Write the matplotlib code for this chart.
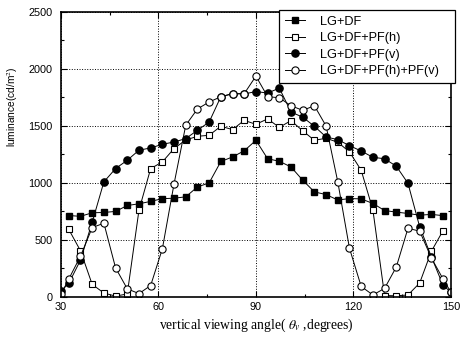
import matplotlib
matplotlib.use("Agg")
import matplotlib.pyplot as plt
from matplotlib.ticker import MultipleLocator

plt.rcParams['font.family'] = ['Liberation Sans', 'DejaVu Sans']
plt.rcParams['mathtext.fontset'] = 'stix'

# viewing angles (degrees)
angles = [32.4, 36.0, 39.6, 43.2, 46.8, 50.4, 54.0, 57.6, 61.2, 64.8, 68.4,
          72.0, 75.6, 79.2, 82.8, 86.4, 90.0, 93.6, 97.2, 100.8, 104.4, 108.0,
          111.6, 115.2, 118.8, 122.4, 126.0, 129.6, 133.2, 136.8, 140.4, 144.0, 147.6]
angles_c = [30.0] + angles + [150.0]

lg_df = [712, 705, 736, 739, 748, 800, 815, 836, 860, 864, 876, 963, 998, 1186, 1226, 1280,
         1372,
         1210, 1188, 1138, 1022, 919, 896, 848, 861, 858, 818, 756, 742, 730, 715, 722, 711]

pf_h = [590, 403, 108, 32, 5, 24, 759, 1124, 1182, 1300, 1375, 1407, 1416, 1495, 1466, 1547,
        1512,
        1560, 1485, 1545, 1455, 1372, 1390, 1355, 1270, 1109, 762, 10, 8, 15, 120, 398, 580]

pf_v = [50, 117, 321, 652, 1007, 1124, 1197, 1285, 1305, 1337, 1357, 1387, 1460, 1532, 1754, 1781, 1778,
        1800,
        1786, 1830, 1620, 1575, 1495, 1401, 1378, 1325, 1278, 1223, 1210, 1145, 995, 613, 350, 100, 40]

pf_hv = [20, 155, 355, 606, 645, 253, 69, 27, 98, 420, 990, 1504, 1647, 1708, 1754, 1781, 1781,
         1935,
         1755, 1745, 1675, 1635, 1675, 1497, 1007, 424, 90, 15, 73, 260, 600, 575, 340, 155, 40]

fig = plt.figure(figsize=(4.61, 3.56), dpi=100)
ax = fig.add_axes([0.1323, 0.1666, 0.8457, 0.8005])

ms = 4.6
lw = 0.7
ax.plot(angles, lg_df, '-s', c='k', mfc='k', mec='k', ms=ms, lw=lw, label='LG+DF')
ax.plot(angles, pf_h, '-s', c='k', mfc='w', mec='k', ms=ms, lw=lw, mew=0.8, label='LG+DF+PF(h)')
ax.plot(angles_c, pf_v, '-o', c='k', mfc='k', mec='k', ms=ms + 0.6, lw=lw, label='LG+DF+PF(v)')
ax.plot(angles_c, pf_hv, '-o', c='k', mfc='w', mec='k', ms=ms + 0.6, lw=lw, mew=0.8,
        label='LG+DF+PF(h)+PF(v)   ')

ax.set_xlim(30, 150)
ax.set_ylim(0, 2500)
ax.xaxis.set_major_locator(MultipleLocator(30))
ax.xaxis.set_minor_locator(MultipleLocator(15))
ax.yaxis.set_major_locator(MultipleLocator(500))
ax.yaxis.set_minor_locator(MultipleLocator(250))
ax.tick_params(which='both', direction='in', top=True, right=True, labelsize=7.8, width=0.8)
ax.tick_params(which='major', length=4)
ax.tick_params(which='minor', length=2)
ax.tick_params(axis='y', pad=6)
ax.grid(True, which='major', ls=':', lw=0.7, c='k')
for s in ax.spines.values():
    s.set_linewidth(1.2)

ax.set_xlabel(r'vertical viewing angle( $\theta_v$ ,degrees)', family='Liberation Serif', fontsize=9.8)
ax.set_ylabel(r'luminance(cd/m$^2$)', fontsize=7.3)
ax.yaxis.set_label_coords(-0.105, 0.665)

leg = ax.legend(loc='upper right', bbox_to_anchor=(1.01, 1.006), borderaxespad=0,
                fancybox=False, framealpha=1, edgecolor='k', fontsize=9.2,
                handlelength=1.6, handletextpad=1.1, labelspacing=0.35, borderpad=0.45)
leg.get_frame().set_linewidth(0.9)

fig.savefig('out.png', dpi=100)
